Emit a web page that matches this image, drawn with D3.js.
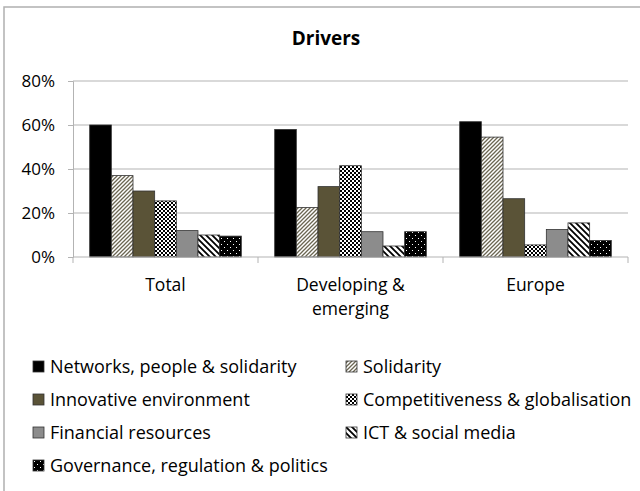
<!DOCTYPE html>
<html>
<head>
<meta charset="utf-8">
<script src="https://cdn.jsdelivr.net/npm/d3@7"></script>
<style>
body { margin: 0; background: #fff; }
svg text { font-family: "Open Sans", "Liberation Sans", sans-serif; fill: #000; }
</style>
</head>
<body>
<div id="chart"></div>
<script>
// categories on x
var categories = [ 'Total', 'Developing & emerging', 'Europe' ];
var categoryLines = [ [ 'Total' ], [ 'Developing &', 'emerging' ], [ 'Europe' ] ];

// series in legend order
var seriesNames = [
	'Networks, people & solidarity',
	'Solidarity',
	'Innovative environment',
	'Competitiveness & globalisation',
	'Financial resources',
	'ICT & social media',
	'Governance, regulation & politics'
];

// values per series, one per category (fractions)
var networks = [ 0.60, 0.58, 0.615 ];
var solidarity = [ 0.37, 0.225, 0.545 ];
var innovative = [ 0.30, 0.32, 0.265 ];
var competitiveness = [ 0.255, 0.415, 0.055 ];
var financial = [ 0.12, 0.115, 0.125 ];
var ict = [ 0.10, 0.05, 0.155 ];
var governance = [ 0.095, 0.115, 0.075 ];

var seriesValues = [ networks, solidarity, innovative, competitiveness, financial, ict, governance ];
var yTicks = [ 0, 0.2, 0.4, 0.6, 0.8 ];

var width = 640;
var height = 491;
var margin = { top: 81, right: 12, bottom: 234, left: 73 };

var svg = d3.select('#chart').append('svg').attr('width', width).attr('height', height);

// patterns
var defs = svg.append('defs');

var pSol = defs.append('pattern').attr('id', 'p-sol').attr('patternUnits', 'userSpaceOnUse')
	.attr('width', 4).attr('height', 4);
pSol.append('rect').attr('width', 4).attr('height', 4).attr('fill', '#fff');
pSol.append('path').attr('d', 'M-1,1 l2,-2 M0,4 l4,-4 M3,5 l2,-2').attr('stroke', '#6b6652').attr('stroke-width', 1.3);

var pComp = defs.append('pattern').attr('id', 'p-comp').attr('patternUnits', 'userSpaceOnUse')
	.attr('width', 4).attr('height', 4);
pComp.append('rect').attr('width', 4).attr('height', 4).attr('fill', '#fff');
pComp.append('rect').attr('width', 2).attr('height', 2).attr('fill', '#000');
pComp.append('rect').attr('x', 2).attr('y', 2).attr('width', 2).attr('height', 2).attr('fill', '#000');

var pIct = defs.append('pattern').attr('id', 'p-ict').attr('patternUnits', 'userSpaceOnUse')
	.attr('width', 6).attr('height', 6);
pIct.append('rect').attr('width', 6).attr('height', 6).attr('fill', '#fff');
pIct.append('path').attr('d', 'M-1,5 l2,2 M0,0 l6,6 M5,-1 l2,2').attr('stroke', '#000').attr('stroke-width', 1.8);

var pGov = defs.append('pattern').attr('id', 'p-gov').attr('patternUnits', 'userSpaceOnUse')
	.attr('width', 6).attr('height', 6);
pGov.append('rect').attr('width', 6).attr('height', 6).attr('fill', '#000');
pGov.append('rect').attr('x', 1).attr('y', 1).attr('width', 1).attr('height', 1).attr('fill', '#fff');
pGov.append('rect').attr('x', 4).attr('y', 4).attr('width', 1).attr('height', 1).attr('fill', '#fff');

var fills = [ '#000000', 'url(#p-sol)', '#5a5337', 'url(#p-comp)', '#8c8c8c', 'url(#p-ict)', 'url(#p-gov)' ];

// outer frame (cropped on the right and bottom in the original)
svg.append('rect').attr('x', 4).attr('y', 7).attr('width', width + 20).attr('height', height + 20)
	.attr('fill', 'none').attr('stroke', '#b0b0b0').attr('stroke-width', 1.5);

var x0 = d3.scaleBand().domain(categories).range([ margin.left, width - margin.right ]).paddingInner(0).paddingOuter(0);
var x1 = d3.scaleBand().domain(d3.range(seriesNames.length)).range([ 0, x0.bandwidth() ]).paddingOuter(0.77).paddingInner(0);
var y = d3.scaleLinear().domain([ 0, 0.8 ]).range([ height - margin.bottom, margin.top ]);

// gridlines
svg.append('g').selectAll('line').data(yTicks.slice(1)).enter().append('line')
	.attr('x1', margin.left).attr('x2', width - margin.right)
	.attr('y1', (d) => y(d)).attr('y2', (d) => y(d))
	.attr('stroke', '#b3b3b3').attr('stroke-width', 1.2);

// y axis
var yAxis = svg.append('g').attr('transform', `translate(${margin.left},0)`)
	.call(d3.axisLeft(y).tickValues(yTicks).tickFormat(d3.format('.0%')).tickSize(5).tickPadding(13));
yAxis.select('.domain').attr('stroke', '#b3b3b3');
yAxis.selectAll('.tick line').attr('stroke', '#b3b3b3');
yAxis.selectAll('.tick text').attr('font-size', 17).attr('font-family', '"Open Sans", sans-serif');

// bars
var groups = svg.append('g').selectAll('g').data(categories).enter().append('g')
	.attr('transform', (d) => `translate(${x0(d)},0)`);

groups.selectAll('rect').data((d, ci) => seriesValues.map((vals, si) => ({ si: si, v: vals[ci] })))
	.enter().append('rect')
	.attr('x', (d) => x1(d.si))
	.attr('width', x1.bandwidth())
	.attr('y', (d) => y(d.v))
	.attr('height', (d) => y(0) - y(d.v))
	.attr('fill', (d) => fills[d.si])
	.attr('stroke', '#333')
	.attr('stroke-width', 0.8);

// x axis
var xAxis = svg.append('g').attr('transform', `translate(0,${y(0)})`);
xAxis.append('line').attr('x1', margin.left).attr('x2', width - margin.right).attr('stroke', '#b3b3b3').attr('stroke-width', 1.2);
xAxis.selectAll('.tk').data(d3.range(categories.length + 1)).enter().append('line')
	.attr('x1', (d) => margin.left + d * x0.step()).attr('x2', (d) => margin.left + d * x0.step())
	.attr('y1', 0).attr('y2', 6).attr('stroke', '#b3b3b3');

var labels = svg.append('g').selectAll('text').data(categories).enter().append('text')
	.attr('x', (d) => x0(d) + x0.bandwidth() / 2)
	.attr('y', y(0) + 34)
	.attr('text-anchor', 'middle')
	.attr('font-size', 17.5);
labels.selectAll('tspan').data((d, i) => categoryLines[i]).enter().append('tspan')
	.attr('x', function() { return d3.select(this.parentNode).attr('x'); })
	.attr('dy', (d, i) => (i === 0 ? 0 : 24))
	.text((d) => d);

// title
svg.append('text').attr('x', 326).attr('y', 45).attr('text-anchor', 'middle')
	.attr('font-size', 19).attr('font-weight', 'bold').text('Drivers');

// legend
var legend = svg.append('g').selectAll('g').data(seriesNames).enter().append('g')
	.attr('transform', (d, i) => `translate(${i % 2 === 0 ? 33 : 346},${367 + Math.floor(i / 2) * 33})`);
legend.append('rect').attr('x', 0).attr('y', -6).attr('width', 11).attr('height', 11)
	.attr('fill', (d, i) => fills[i]).attr('stroke', '#333').attr('stroke-width', 0.8);
legend.append('text').attr('x', 17).attr('y', 0).attr('dy', '0.35em').attr('font-size', 18).text((d) => d);
</script>
</body>
</html>
